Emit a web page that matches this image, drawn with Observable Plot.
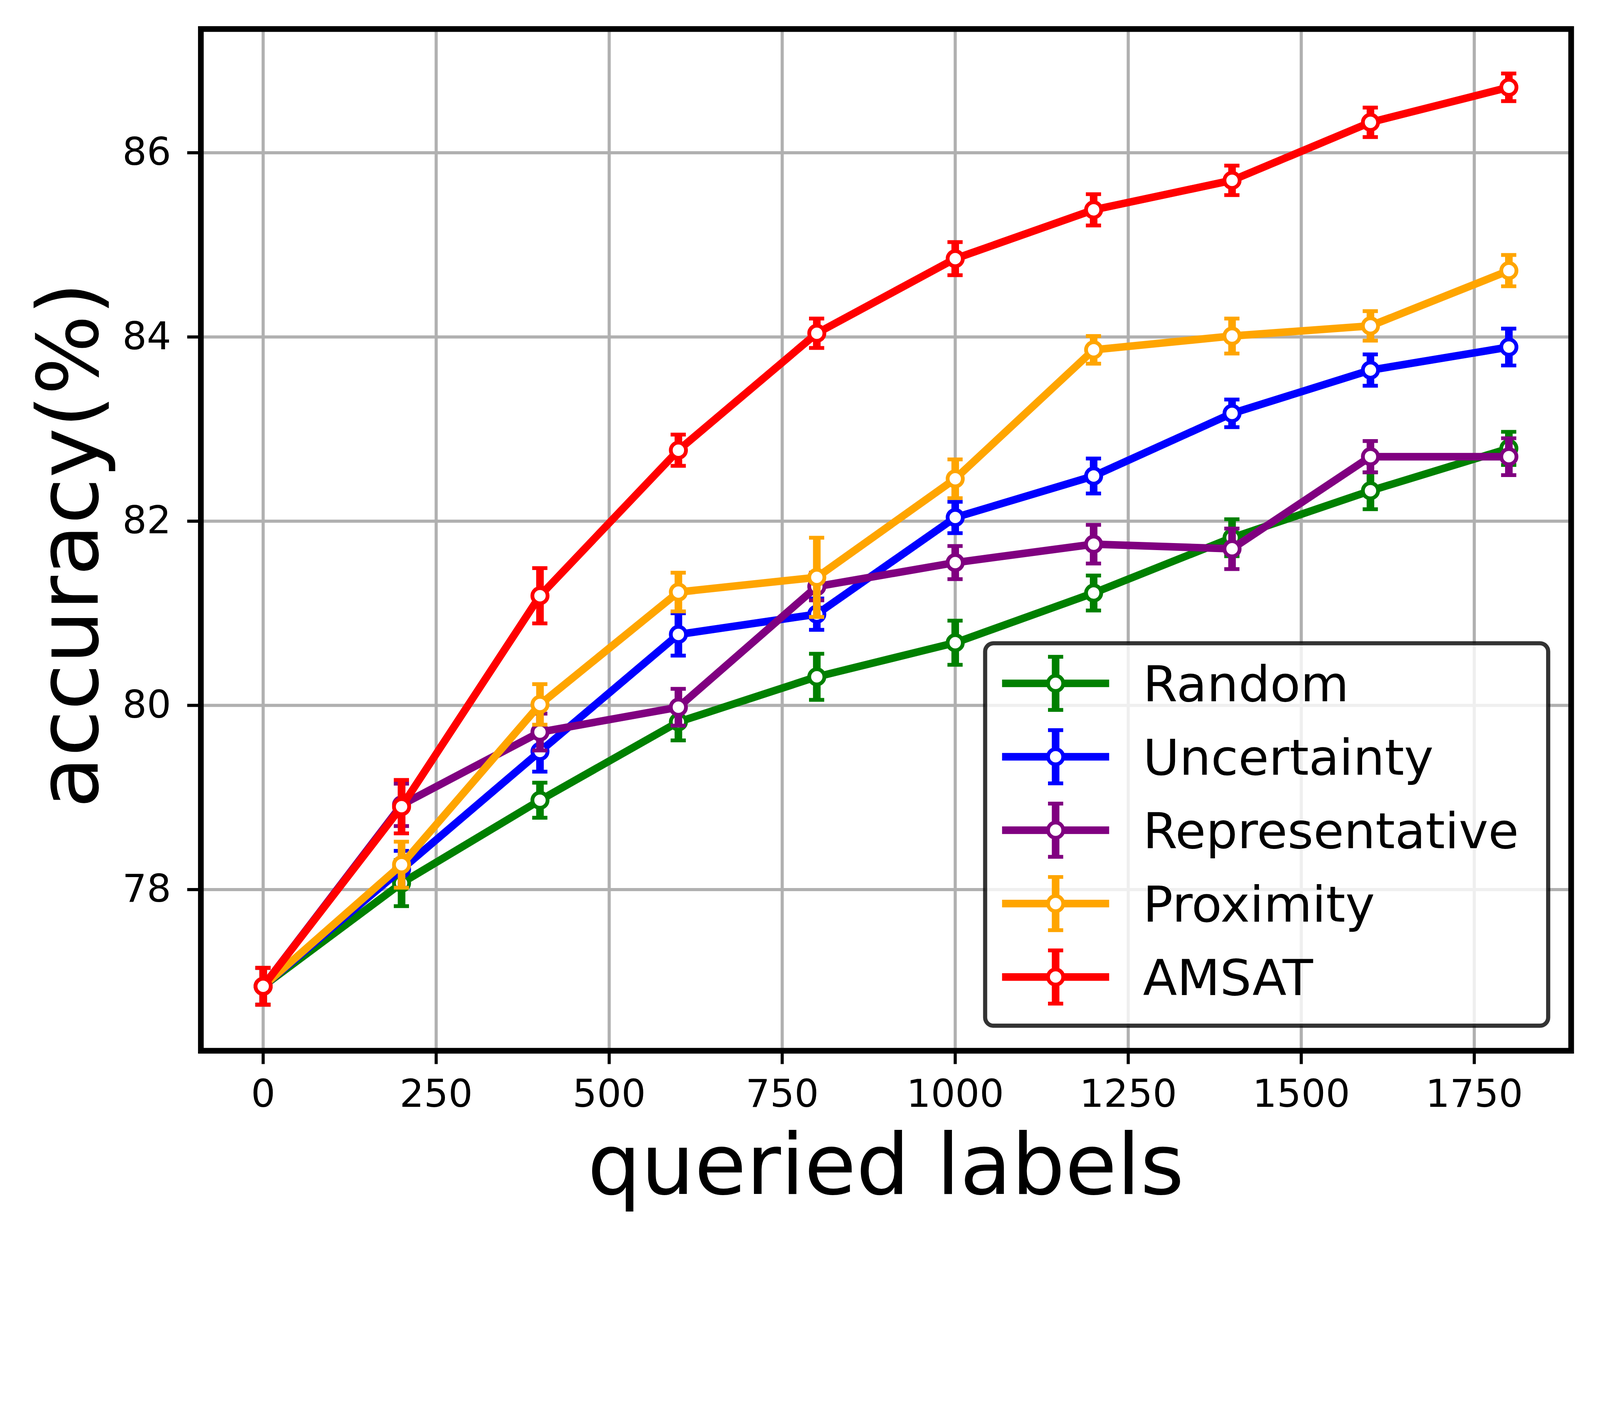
<!DOCTYPE html>
<html>
<head>
<meta charset="utf-8">
<script src="https://cdn.jsdelivr.net/npm/d3@7"></script>
<script src="https://cdn.jsdelivr.net/npm/@observablehq/plot@0.6"></script>
<style>
html, body { margin: 0; padding: 0; background: #fff; overflow: hidden; }
svg { display: block; }
</style>
</head>
<body>
<div id="chart"></div>
<script>
// ---- data ----
const queried = [0, 200, 400, 600, 800, 1000, 1200, 1400, 1600, 1800];
const seriesNames = ["Random", "Uncertainty", "Representative", "Proximity", "AMSAT"];
const seriesColors = ["green", "blue", "purple", "orange", "red"];

const randomAcc = [76.95, 78.07, 78.97, 79.82, 80.31, 80.68, 81.22, 81.82, 82.33, 82.79];
const randomErr = [0.20, 0.25, 0.19, 0.20, 0.25, 0.24, 0.19, 0.20, 0.20, 0.18];
const uncertaintyAcc = [76.95, 78.22, 79.50, 80.77, 80.99, 82.04, 82.49, 83.17, 83.64, 83.89];
const uncertaintyErr = [0.20, 0.20, 0.22, 0.23, 0.17, 0.17, 0.19, 0.15, 0.17, 0.20];
const representativeAcc = [76.95, 78.92, 79.71, 79.98, 81.29, 81.55, 81.75, 81.70, 82.70, 82.70];
const representativeErr = [0.20, 0.23, 0.20, 0.20, 0.15, 0.18, 0.21, 0.22, 0.17, 0.20];
const proximityAcc = [76.95, 78.27, 80.01, 81.23, 81.39, 82.46, 83.86, 84.01, 84.12, 84.72];
const proximityErr = [0.20, 0.25, 0.22, 0.21, 0.43, 0.21, 0.15, 0.19, 0.16, 0.17];
const amsatAcc = [76.95, 78.90, 81.19, 82.77, 84.04, 84.85, 85.38, 85.70, 86.33, 86.71];
const amsatErr = [0.20, 0.29, 0.30, 0.17, 0.16, 0.18, 0.17, 0.16, 0.16, 0.15];

const xTicks = [0, 250, 500, 750, 1000, 1250, 1500, 1750];
const yTicks = [78, 80, 82, 84, 86];
const xLabel = "queried labels";
const yLabel = "accuracy(%)";

const accs = [randomAcc, uncertaintyAcc, representativeAcc, proximityAcc, amsatAcc];
const errs = [randomErr, uncertaintyErr, representativeErr, proximityErr, amsatErr];

const rows = seriesNames.flatMap((s, i) =>
  queried.map((q, j) => ({ series: s, x: q, y: accs[i][j], err: errs[i][j] }))
);

// ---- layout ----
const W = 4632, H = 3586;
const FONT = "DejaVu Sans";
const LW = 22;       // line & error-bar width
const CAP = 22;      // half cap length
const CAPW = 11;     // cap thickness
const MR = 22;       // marker radius
const MEW = 11;      // marker edge width

const marks = [
  Plot.gridX(xTicks, { stroke: "#b0b0b0", strokeOpacity: 1, strokeWidth: 9 }),
  Plot.gridY(yTicks, { stroke: "#b0b0b0", strokeOpacity: 1, strokeWidth: 9 })
];

seriesNames.forEach((s, i) => {
  const d = rows.filter(r => r.series === s);
  const c = seriesColors[i];
  marks.push(
    Plot.line(d, { x: "x", y: "y", stroke: c, strokeWidth: LW, strokeLinejoin: "round" }),
    Plot.ruleX(d, { x: "x", y1: r => r.y - r.err, y2: r => r.y + r.err, stroke: c, strokeWidth: LW }),
    Plot.ruleY(d, { y: r => r.y + r.err, x1: "x", x2: "x", insetLeft: -CAP, insetRight: -CAP, stroke: c, strokeWidth: CAPW }),
    Plot.ruleY(d, { y: r => r.y - r.err, x1: "x", x2: "x", insetLeft: -CAP, insetRight: -CAP, stroke: c, strokeWidth: CAPW }),
    Plot.dot(d, { x: "x", y: "y", r: MR, fill: "white", stroke: c, strokeWidth: MEW })
  );
});

marks.push(
  Plot.frame({ stroke: "black", strokeWidth: 16.5 }),
  Plot.axisX(xTicks, { tickSize: 39, tickPadding: 44, strokeWidth: 9, fontSize: 111, fontFamily: FONT, tickFormat: d => `${d}`, label: null }),
  Plot.axisY(yTicks, { tickSize: 39, tickPadding: 47, strokeWidth: 9, fontSize: 111, fontFamily: FONT, tickFormat: d => `${d}`, label: null })
);

const chart = Plot.plot({
  width: W,
  height: H,
  marginLeft: 581,
  marginRight: W - 4548,
  marginTop: 83.5,
  marginBottom: H - 3041,
  x: { domain: [-90, 1890] },
  y: { domain: [76.25, 87.343] },
  style: { fontFamily: FONT, fontSize: "111px", color: "black", background: "white" },
  marks
});

document.getElementById("chart").appendChild(chart);

// ---- axis titles & legend ----
const svg = d3.select(chart);

svg.append("text")
  .attr("x", 2564.5).attr("y", 3456)
  .attr("text-anchor", "middle")
  .attr("font-family", FONT).attr("font-size", 244).attr("fill", "black")
  .text(xLabel);

svg.append("text")
  .attr("transform", "translate(283,1578) rotate(-90)")
  .attr("text-anchor", "middle")
  .attr("font-family", FONT).attr("font-size", 244).attr("fill", "black")
  .text(yLabel);

const lg = svg.append("g");
lg.append("rect")
  .attr("x", 2852).attr("y", 1862).attr("width", 1630).attr("height", 1107)
  .attr("rx", 24).attr("ry", 24)
  .attr("fill", "white").attr("fill-opacity", 0.8)
  .attr("stroke", "black").attr("stroke-opacity", 0.8).attr("stroke-width", 12);

seriesNames.forEach((s, i) => {
  const cy = 1978 + i * 212.5;
  const c = seriesColors[i];
  const cx = 3056;
  lg.append("line").attr("x1", 2901).attr("x2", 3211).attr("y1", cy).attr("y2", cy)
    .attr("stroke", c).attr("stroke-width", LW);
  lg.append("line").attr("x1", cx).attr("x2", cx).attr("y1", cy - 77).attr("y2", cy + 77)
    .attr("stroke", c).attr("stroke-width", LW);
  [cy - 77, cy + 77].forEach(yy => {
    lg.append("line").attr("x1", cx - CAP).attr("x2", cx + CAP).attr("y1", yy).attr("y2", yy)
      .attr("stroke", c).attr("stroke-width", CAPW);
  });
  lg.append("circle").attr("cx", cx).attr("cy", cy).attr("r", MR)
    .attr("fill", "white").attr("stroke", c).attr("stroke-width", MEW);
  lg.append("text").attr("x", 3309).attr("y", cy + 52)
    .attr("text-anchor", "start")
    .attr("font-family", FONT).attr("font-size", 144).attr("fill", "black")
    .text(s);
});
</script>
</body>
</html>
